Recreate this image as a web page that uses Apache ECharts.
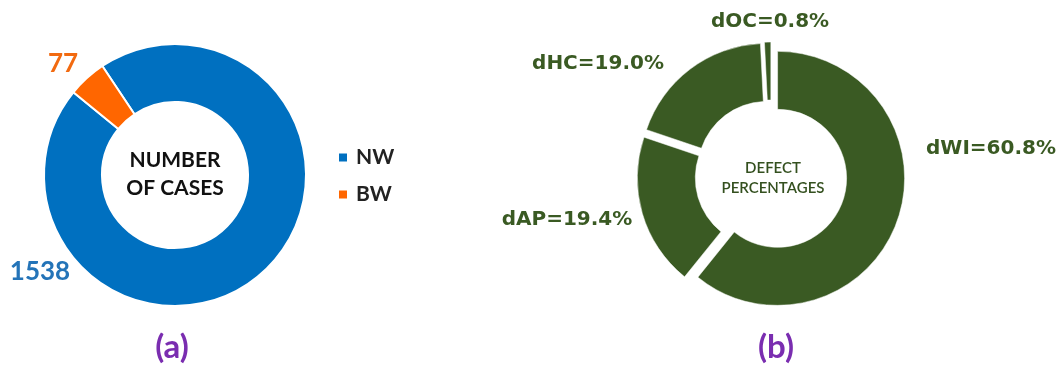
<!DOCTYPE html>
<html>
<head>
<meta charset="utf-8">
<script src="https://cdn.jsdelivr.net/npm/echarts@6/dist/echarts.min.js"></script>
<style>
html,body{margin:0;padding:0;background:#fff;}
#chart{width:1059px;height:365px;}
</style>
</head>
<body>
<div id="chart"></div>
<script>
// ---- data ----
const caseCategories = ['NW', 'BW'];
const caseValues = [1538, 77];
const defectCategories = ['dWI', 'dAP', 'dHC', 'dOC'];
const defectPercents = [60.8, 19.4, 19.0, 0.8];
const panelLabels = ['(a)', '(b)'];
const centerTitles = ['NUMBER\nOF CASES', 'DEFECT\nPERCENTAGES'];

// ---- styling ----
const caseColors = ['#0070C0', '#FF6600'];
const caseLabelColors = ['#2474B8', '#F26A10'];
const caseLabelPos = [[40, 272], [63, 64]];
const green = '#3A5A23';
const defectLabelPos = [[991, 149], [567, 220], [598, 64], [770, 22]];
const defectCenter = [771, 176];
const explode = 7;
const purple = '#7A2DB0';

const chart = echarts.init(document.getElementById('chart'), null, {renderer: 'canvas'});

// one series per exploded slice: same angles, centre pushed out along the slice's mid-angle
const defectTotal = defectPercents.reduce((a, b) => a + b, 0);
const defectSeries = defectCategories.map((name, k) => {
  let before = 0;
  for (let j = 0; j < k; j++) before += defectPercents[j];
  const mid = (90 - 360 * (before + defectPercents[k] / 2) / defectTotal) * Math.PI / 180;
  return {
    type: 'pie',
    silent: true,
    center: [defectCenter[0] + Math.cos(mid) * explode, defectCenter[1] - Math.sin(mid) * explode],
    radius: [69, 127],
    startAngle: 90,
    clockwise: true,
    avoidLabelOverlap: false,
    labelLine: {show: false},
    data: defectCategories.map((n, i) => ({
      name: n,
      value: defectPercents[i],
      itemStyle: i === k
        ? {color: green, borderColor: '#ffffff', borderWidth: 0.5}
        : {color: 'rgba(0,0,0,0)', borderWidth: 0},
      label: {
        show: i === k,
        position: 'outside',
        overflow: 'none',
        formatter: p => p.name + '=' + p.value.toFixed(1) + '%',
        fontFamily: 'DejaVu Sans',
        fontWeight: 'bold',
        fontSize: 20,
        color: green
      }
    })),
    labelLayout: p => ({
      x: defectLabelPos[p.dataIndex][0],
      y: defectLabelPos[p.dataIndex][1],
      align: 'center',
      verticalAlign: 'middle'
    })
  };
});

const option = {
  animation: false,
  backgroundColor: '#ffffff',
  legend: {
    data: caseCategories,
    orient: 'vertical',
    left: 337,
    top: 147,
    padding: 0,
    itemWidth: 10,
    itemHeight: 10,
    itemGap: 16,
    icon: 'rect',
    selectedMode: false,
    textStyle: {fontFamily: 'Lato', fontWeight: 'bold', fontSize: 21, color: '#222222', padding: [0, 0, 0, 3]}
  },
  series: [
    {
      type: 'pie',
      silent: true,
      center: [175, 175],
      radius: [73, 131],
      startAngle: 123.7,
      clockwise: true,
      itemStyle: {borderColor: '#ffffff', borderWidth: 2},
      labelLine: {show: false},
      label: {
        show: true,
        position: 'outside',
        overflow: 'none',
        formatter: p => String(p.value),
        fontFamily: 'Lato',
        fontWeight: 'bold',
        fontSize: 26
      },
      labelLayout: p => ({
        x: caseLabelPos[p.dataIndex][0],
        y: caseLabelPos[p.dataIndex][1],
        align: 'center',
        verticalAlign: 'middle'
      }),
      data: caseCategories.map((n, i) => ({
        name: n,
        value: caseValues[i],
        itemStyle: {color: caseColors[i]},
        label: {color: caseLabelColors[i]}
      }))
    }
  ].concat(defectSeries),
  graphic: [
    {
      type: 'text', x: 175, y: 174,
      style: {text: centerTitles[0], fill: '#111111', font: 'bold 21px Lato',
        textAlign: 'center', textVerticalAlign: 'middle', lineHeight: 28}
    },
    {
      type: 'text', x: 773, y: 178,
      style: {text: centerTitles[1], fill: '#34501F', font: '600 15px Lato',
        textAlign: 'center', textVerticalAlign: 'middle', lineHeight: 20}
    },
    {
      type: 'text', x: 172, y: 347,
      style: {text: panelLabels[0], fill: purple, font: 'bold 33px Lato',
        textAlign: 'center', textVerticalAlign: 'middle'}
    },
    {
      type: 'text', x: 776, y: 347,
      style: {text: panelLabels[1], fill: purple, font: 'bold 33px Lato',
        textAlign: 'center', textVerticalAlign: 'middle'}
    }
  ]
};
chart.setOption(option);
</script>
</body>
</html>
